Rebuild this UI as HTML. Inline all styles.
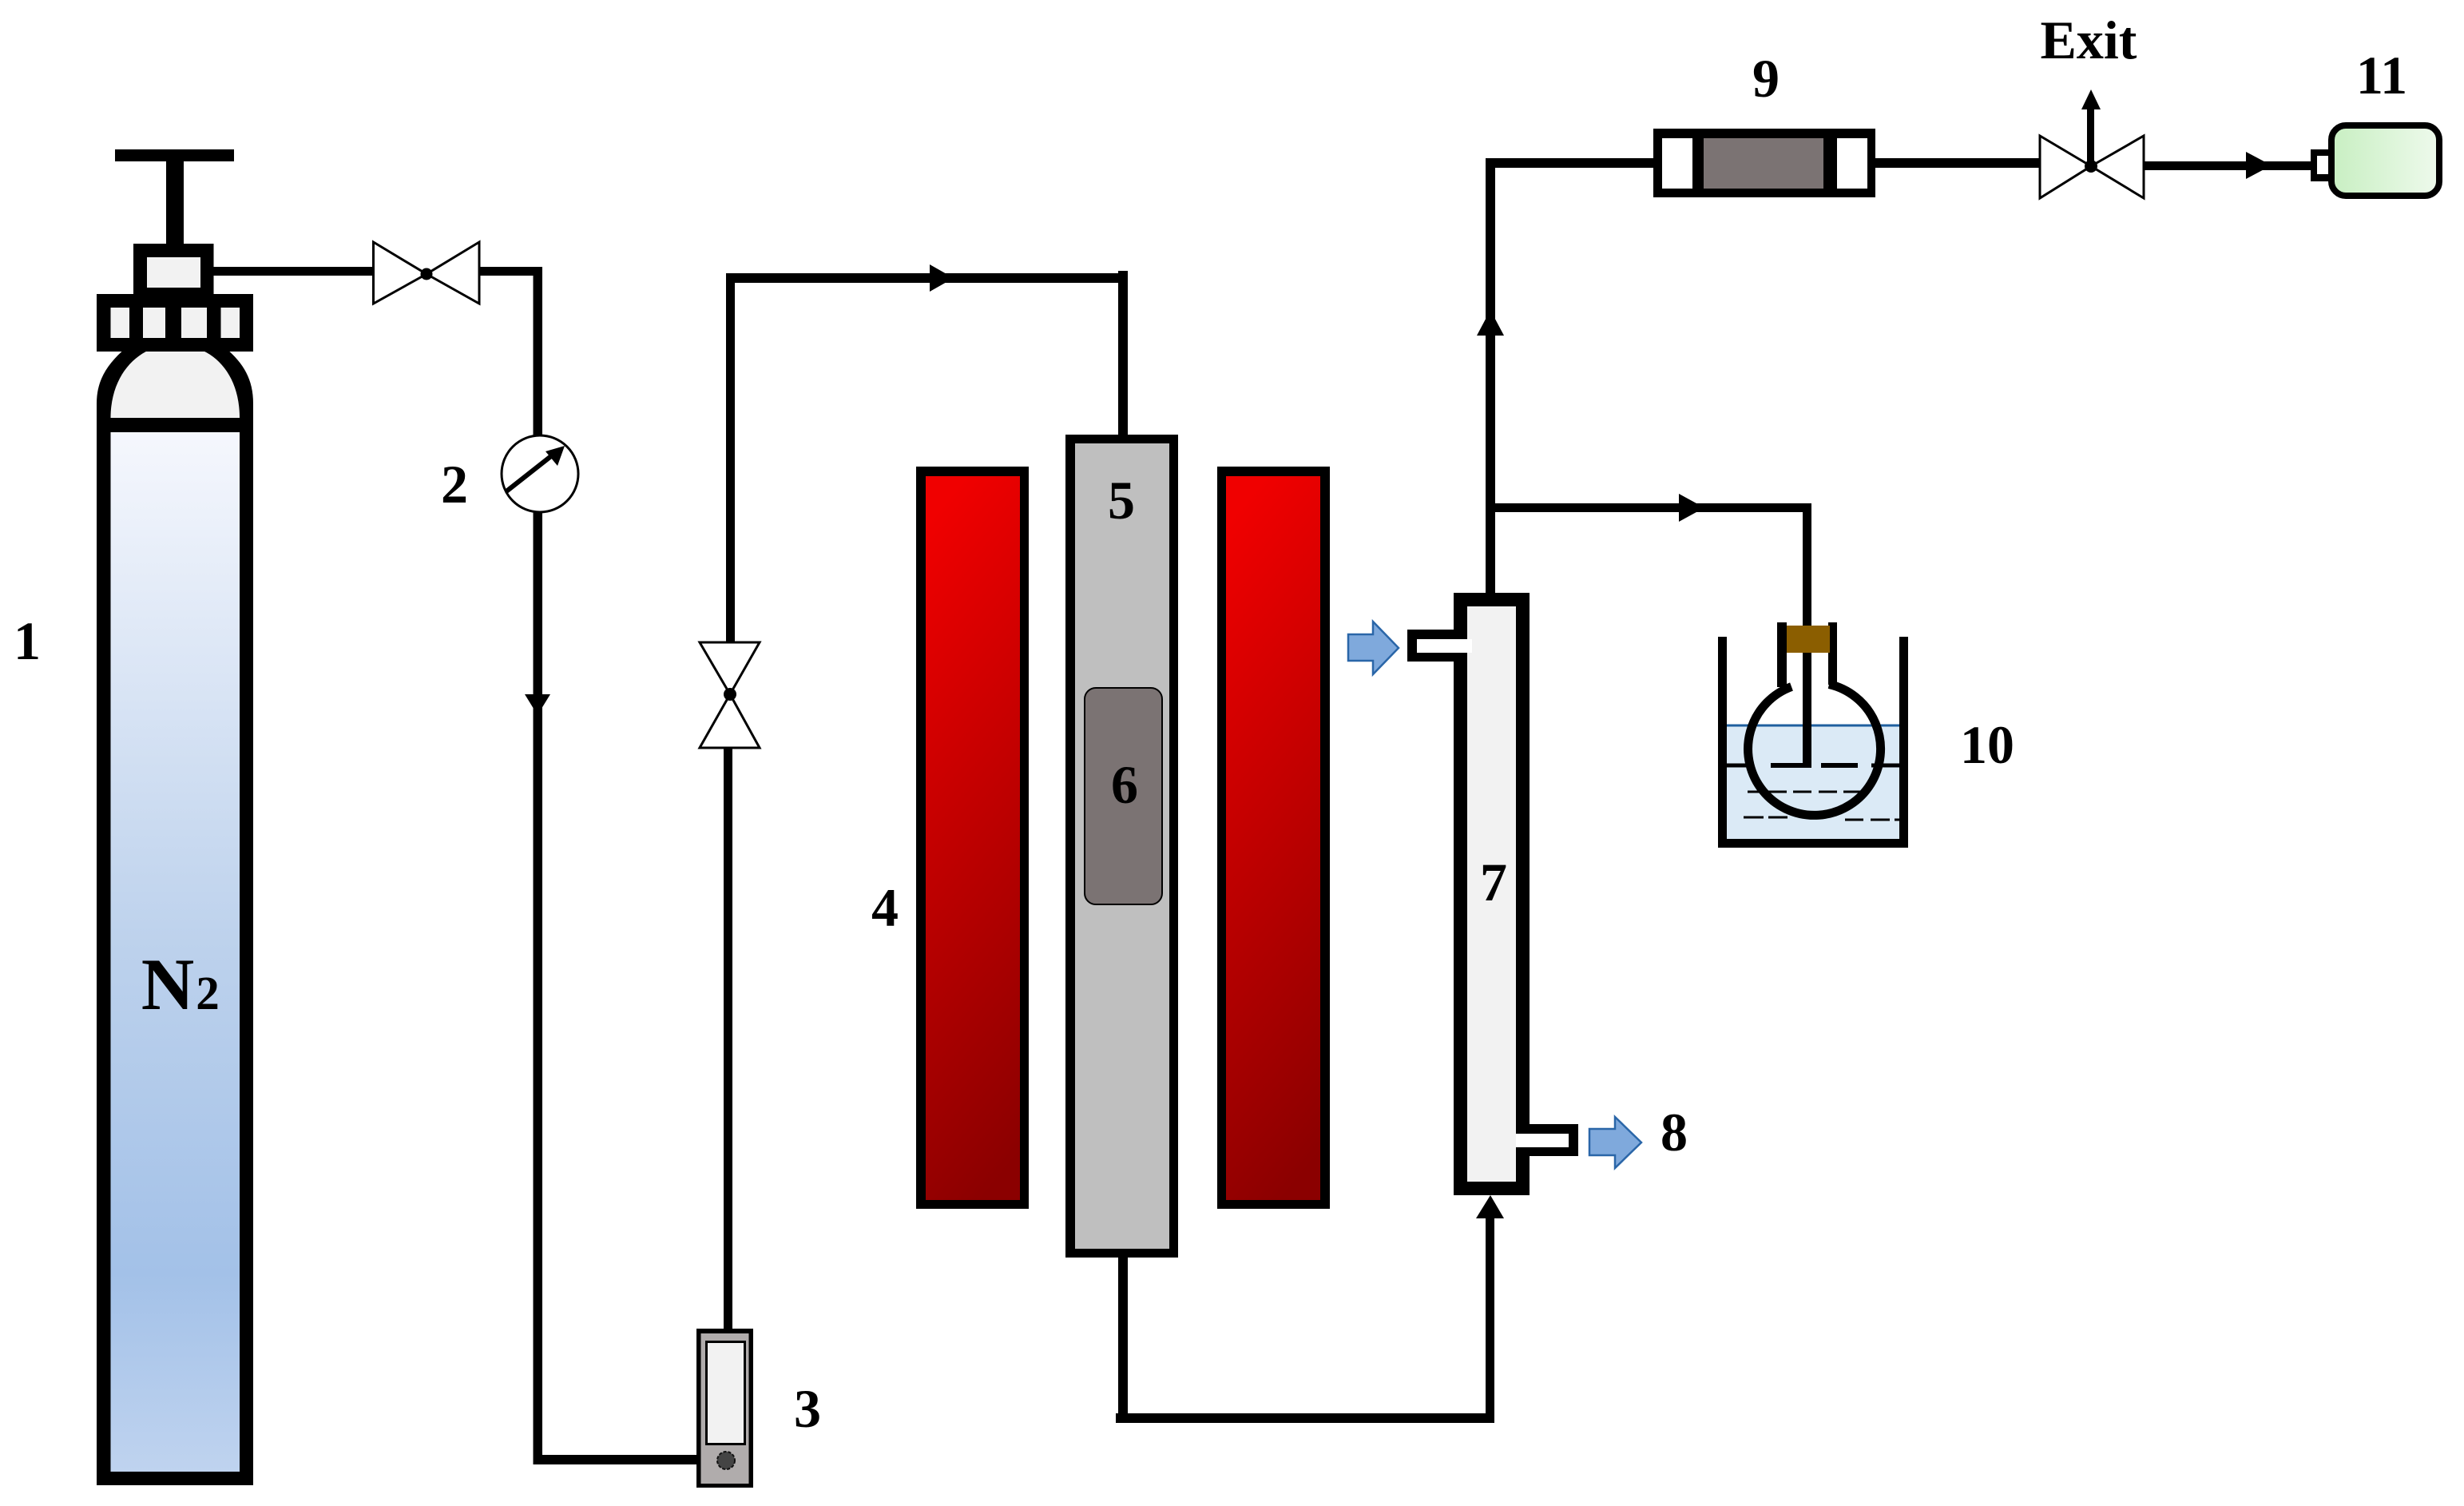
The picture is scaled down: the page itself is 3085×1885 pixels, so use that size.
<!DOCTYPE html>
<html>
<head>
<meta charset="utf-8">
<style>
html,body{margin:0;padding:0;background:#fff;}
svg{display:block;}
text{font-family:"Liberation Serif",serif;font-weight:bold;fill:#000;text-anchor:middle;font-size:68px;}
</style>
</head>
<body>
<svg width="3085" height="1885" viewBox="0 0 3085 1885" xmlns="http://www.w3.org/2000/svg">
<defs>
<linearGradient id="gas" x1="0" y1="0" x2="0" y2="1">
<stop offset="0" stop-color="#f5f7fd"/><stop offset=".5" stop-color="#bcd1ec"/><stop offset=".81" stop-color="#a3c1e8"/><stop offset="1" stop-color="#bfd3ef"/>
</linearGradient>
<linearGradient id="red" x1=".42" y1="0" x2=".58" y2="1">
<stop offset="0" stop-color="#f00000"/><stop offset="1" stop-color="#8b0000"/>
</linearGradient>
<linearGradient id="green" x1="0" y1="0" x2="1" y2="0">
<stop offset="0" stop-color="#c8efc2"/><stop offset="1" stop-color="#eefaec"/>
</linearGradient>
</defs>

<!-- cylinder -->
<rect x="144" y="187" width="149" height="15"/>
<rect x="208" y="187" width="22" height="125"/>
<rect x="167" y="305" width="100.500" height="70"/>
<rect x="184" y="322" width="67" height="38" fill="#f2f2f2"/>
<path d="M121 523V505C121 475 135 455 157 436H283C305 455 317 475 317 505V523Z"/>
<path d="M138.500 523C138.500 480 160 450 187 438H252C280 450 300 480 300 523Z" fill="#f2f2f2"/>
<rect x="121" y="368" width="196" height="72"/>
<rect x="138.500" y="385" width="23.500" height="38" fill="#f2f2f2"/>
<rect x="179" y="385" width="28" height="38" fill="#f2f2f2"/>
<rect x="227" y="385" width="32" height="38" fill="#f2f2f2"/>
<rect x="276.500" y="385" width="23.500" height="38" fill="#f2f2f2"/>
<rect x="121" y="523" width="196" height="1336"/>
<rect x="138.500" y="541" width="161.500" height="1301" fill="url(#gas)"/>
<text x="210" y="1263" style="font-size:92px">N</text>
<text x="260" y="1263" style="font-size:59px">2</text>

<!-- pipe cylinder to rotameter -->
<rect x="267" y="334" width="201" height="11"/>
<rect x="600" y="334" width="79" height="11"/>
<rect x="667.500" y="334" width="11.500" height="212"/>
<rect x="667.500" y="638" width="11.500" height="1195"/>
<rect x="667.500" y="1821" width="206" height="12"/>
<polygon points="657,869 689,869 673,895"/>

<!-- valve 1 -->
<polygon points="467.500,303 467.500,380 534,343" fill="#fff" stroke="#000" stroke-width="3"/>
<polygon points="600,303 600,380 534,343" fill="#fff" stroke="#000" stroke-width="3"/>
<circle cx="534" cy="343" r="7.500"/>

<!-- gauge -->
<circle cx="676" cy="593" r="48" fill="#fff" stroke="#000" stroke-width="3"/>
<line x1="634" y1="615" x2="695" y2="567" stroke="#000" stroke-width="6"/>
<polygon points="707,558 683,565 698,583"/>

<!-- rotameter -->
<rect x="906" y="937" width="11" height="730"/>
<rect x="872" y="1663" width="71" height="199"/>
<rect x="877.500" y="1669" width="60" height="188" fill="#b0acac"/>
<rect x="884.500" y="1679.500" width="48" height="128" fill="#f2f2f2" stroke="#000" stroke-width="3"/>
<circle cx="909" cy="1828" r="11" fill="#444" stroke="#111" stroke-width="2" stroke-dasharray="4 2"/>

<!-- valve 3 -->
<rect x="909" y="342" width="11" height="462"/>
<polygon points="876,804 951,804 914,869" fill="#fff" stroke="#000" stroke-width="3"/>
<polygon points="876,936 951,936 914,869" fill="#fff" stroke="#000" stroke-width="3"/>
<circle cx="914" cy="869" r="8"/>

<!-- top pipe to reactor -->
<rect x="909" y="342" width="503" height="12"/>
<rect x="1400" y="339" width="12" height="210"/>
<polygon points="1164,331 1194,348 1164,365"/>

<!-- furnaces -->
<rect x="1147" y="584" width="141" height="929"/>
<rect x="1159" y="596" width="118" height="906" fill="url(#red)"/>
<rect x="1524" y="584" width="141" height="929"/>
<rect x="1535" y="596" width="118" height="906" fill="url(#red)"/>

<!-- reactor -->
<rect x="1334" y="544" width="141" height="1030"/>
<rect x="1346" y="555" width="118" height="1008" fill="#bfbfbf"/>
<rect x="1358" y="861" width="97" height="271" rx="14" fill="#7b7373" stroke="#000" stroke-width="2"/>

<!-- reactor to condenser -->
<rect x="1400" y="1570" width="12" height="205"/>
<rect x="1397" y="1769" width="474" height="12"/>
<rect x="1860" y="1520" width="11" height="261"/>
<polygon points="1866,1496 1848,1525 1883,1525"/>

<!-- condenser -->
<rect x="1860" y="200" width="12" height="545"/>
<polygon points="1866,388 1849,420 1883,420"/>
<rect x="1820" y="742" width="95" height="754"/>
<rect x="1837" y="759" width="61" height="720" fill="#f2f2f2"/>
<rect x="1762" y="788" width="58" height="40"/>
<rect x="1774" y="800" width="69" height="17" fill="#fff"/>
<rect x="1915" y="1407" width="61" height="40"/>
<rect x="1898" y="1419" width="66" height="17" fill="#fff"/>
<polygon points="1688,794 1719,794 1719,778 1751,811 1719,844 1719,827 1688,827" fill="#7fa9dc" stroke="#2a66a8" stroke-width="2.500"/>
<polygon points="1990,1413 2022,1413 2022,1398 2055,1430 2022,1462 2022,1446 1990,1446" fill="#7fa9dc" stroke="#2a66a8" stroke-width="2.500"/>

<!-- upper line -->
<rect x="1860" y="198" width="212" height="12"/>
<rect x="2070" y="161" width="278" height="86"/>
<rect x="2081" y="173" width="38" height="63" fill="#fff"/>
<rect x="2133" y="173" width="150" height="63" fill="#7b7373"/>
<rect x="2300" y="173" width="38" height="63" fill="#fff"/>
<rect x="2348" y="198" width="206" height="12"/>

<!-- exit valve -->
<polygon points="2554,170 2554,248 2618,208" fill="#fff" stroke="#000" stroke-width="3"/>
<polygon points="2684,170 2684,248 2618,208" fill="#fff" stroke="#000" stroke-width="3"/>
<circle cx="2618" cy="208" r="8"/>
<rect x="2613" y="130" width="9" height="78"/>
<polygon points="2618,112 2606,137 2630,137"/>
<rect x="2684" y="202" width="212" height="11"/>
<polygon points="2812,190 2844,207 2812,224"/>

<!-- pump 11 -->
<rect x="2893" y="187" width="25" height="40"/>
<rect x="2901" y="195" width="14" height="23" fill="#fff"/>
<rect x="2919" y="157" width="135" height="88" rx="18" fill="url(#green)" stroke="#000" stroke-width="8"/>

<!-- branch to flask -->
<rect x="1870" y="630" width="398" height="11"/>
<polygon points="2102,618 2134,635.500 2102,653"/>

<!-- beaker -->
<rect x="2162" y="908" width="216" height="142" fill="#dbeaf6"/>
<rect x="2162" y="906.500" width="216" height="3" fill="#1f5f9f"/>
<rect x="2162" y="955.500" width="28" height="5"/>
<rect x="2343" y="955.500" width="35" height="5"/>
<g stroke="#000" stroke-width="3">
<line x1="2188" y1="991" x2="2237" y2="991"/>
<line x1="2245" y1="991" x2="2268" y2="991"/>
<line x1="2277" y1="991" x2="2300" y2="991"/>
<line x1="2308" y1="991" x2="2330" y2="991"/>
<line x1="2183" y1="1023" x2="2208" y2="1023"/>
<line x1="2214" y1="1023" x2="2238" y2="1023"/>
<line x1="2310" y1="1026" x2="2333" y2="1026"/>
<line x1="2342" y1="1026" x2="2366" y2="1026"/>
<line x1="2372" y1="1026" x2="2378" y2="1026"/>
</g>
<path d="M2243 859.500A83 83 0 1 0 2290 856.500" fill="none" stroke="#000" stroke-width="11"/>
<rect x="2225" y="779" width="12" height="81"/>
<rect x="2289" y="779" width="11" height="78"/>
<rect x="2257" y="630" width="11" height="327"/>
<rect x="2237" y="783" width="54" height="34" fill="#8b5e00"/>
<rect x="2217" y="955" width="51" height="6"/>
<rect x="2280" y="955" width="46" height="6"/>
<rect x="2151" y="797" width="11" height="264"/>
<rect x="2378" y="797" width="11" height="264"/>
<rect x="2151" y="1050" width="238" height="11"/>

<!-- labels -->
<text x="34" y="825">1</text>
<text x="569" y="629">2</text>
<text x="1011" y="1786">3</text>
<text x="1108" y="1159">4</text>
<text x="1404" y="649">5</text>
<text x="1408" y="1005">6</text>
<text x="1870" y="1127">7</text>
<text x="2096" y="1440">8</text>
<text x="2211" y="121">9</text>
<text x="2488" y="955">10</text>
<text x="2982" y="117">11</text>
<text x="2615" y="73">Exit</text>
</svg>
</body>
</html>
